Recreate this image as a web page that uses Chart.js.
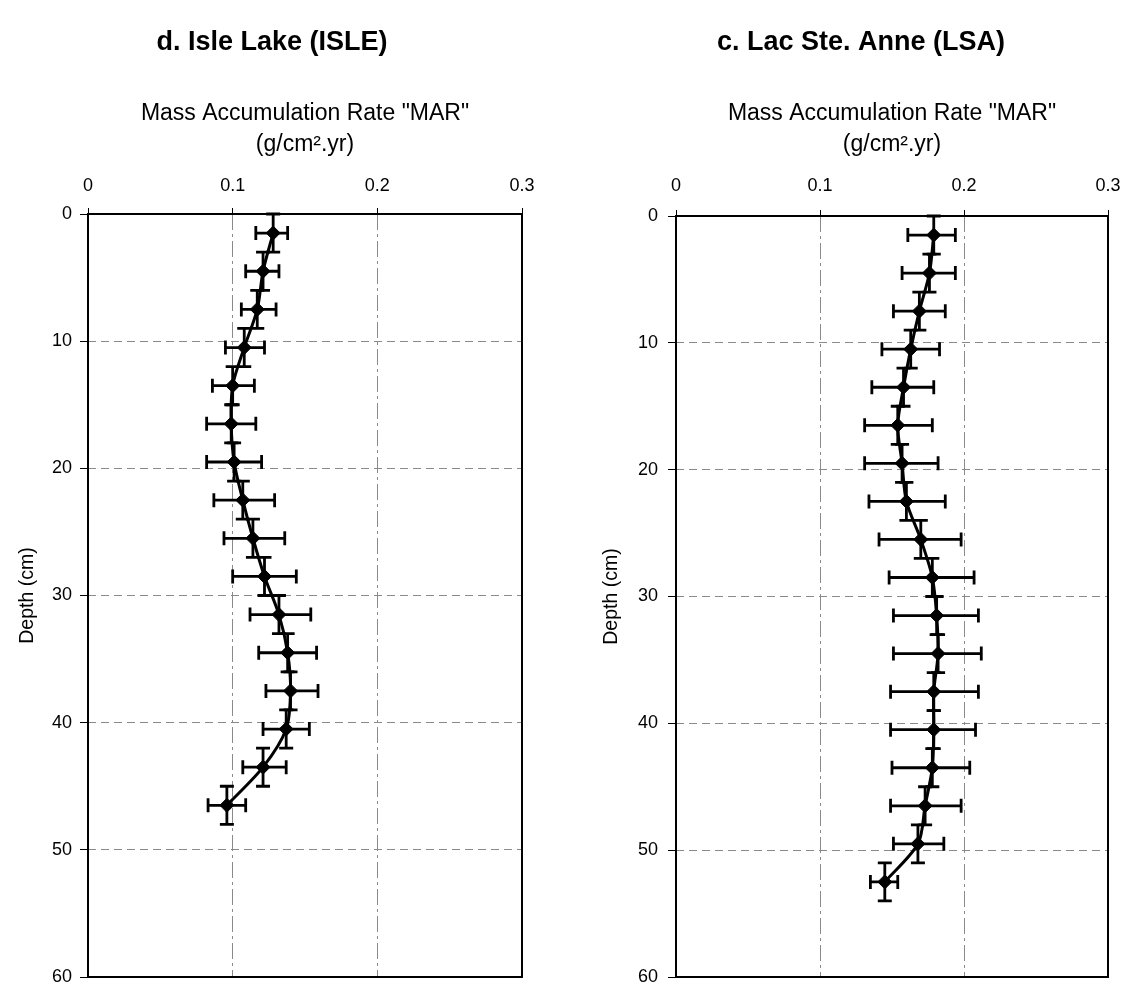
<!DOCTYPE html>
<html><head><meta charset="utf-8">
<script src="https://cdn.jsdelivr.net/npm/chart.js@4.4.1/dist/chart.umd.min.js"></script>
<style>
html,body{margin:0;padding:0;background:#fff;overflow:hidden;width:1130px;height:985px}
.w{position:absolute;top:0}
canvas{display:block}
</style></head><body>
<div class="w" style="left:0px"><canvas id="c1" width="544" height="985"></canvas></div>
<div class="w" style="left:592px"><canvas id="c2" width="538" height="985"></canvas></div>
<script>
// ---- data ----
const xTickLabels = ['0', '0.1', '0.2', '0.3'];
const yTickLabels = ['0', '10', '20', '30', '40', '50', '60'];

const isleTitle = 'd. Isle Lake (ISLE)';
const isleDepth = [1.5, 4.5, 7.5, 10.5, 13.5, 16.5, 19.5, 22.5, 25.5, 28.5, 31.5, 34.5, 37.5, 40.5, 43.5, 46.5];
const isleMAR   = [0.128, 0.121, 0.117, 0.108, 0.100, 0.099, 0.101, 0.107, 0.114, 0.122, 0.132, 0.138, 0.140, 0.137, 0.121, 0.096];
const isleLow   = [0.116, 0.109, 0.106, 0.095, 0.086, 0.082, 0.082, 0.087, 0.094, 0.100, 0.112, 0.118, 0.123, 0.121, 0.107, 0.083];
const isleHigh  = [0.138, 0.132, 0.130, 0.122, 0.115, 0.116, 0.120, 0.129, 0.136, 0.144, 0.154, 0.158, 0.159, 0.153, 0.137, 0.109];
const isleDepthErr = [1.5, 1.5, 1.5, 1.5, 1.5, 1.5, 1.5, 1.5, 1.5, 1.5, 1.5, 1.5, 1.5, 1.5, 1.5, 1.5];

const lsaTitle = 'c. Lac Ste. Anne (LSA)';
const lsaDepth = [1.5, 4.5, 7.5, 10.5, 13.5, 16.5, 19.5, 22.5, 25.5, 28.5, 31.5, 34.5, 37.5, 40.5, 43.5, 46.5, 49.5, 52.5];
const lsaMAR   = [0.179, 0.176, 0.169, 0.163, 0.158, 0.154, 0.157, 0.160, 0.170, 0.178, 0.181, 0.182, 0.179, 0.179, 0.178, 0.173, 0.168, 0.145];
const lsaLow   = [0.161, 0.157, 0.151, 0.143, 0.136, 0.131, 0.131, 0.134, 0.141, 0.148, 0.151, 0.151, 0.149, 0.149, 0.150, 0.149, 0.151, 0.135];
const lsaHigh  = [0.194, 0.194, 0.187, 0.183, 0.179, 0.178, 0.182, 0.187, 0.198, 0.207, 0.210, 0.212, 0.210, 0.208, 0.204, 0.198, 0.186, 0.154];
const lsaDepthErr = [1.5, 1.5, 1.5, 1.5, 1.5, 1.5, 1.5, 1.5, 1.5, 1.5, 1.5, 1.5, 1.5, 1.5, 1.5, 1.5, 1.5, 1.5];

const xAxisTitle = ['Mass Accumulation Rate "MAR"', '(g/cm\u00B2.yr)'];
const yAxisTitle = 'Depth (cm)';

// ---- plugins ----
const errorBars = {
  id: 'errorBars',
  beforeDatasetsDraw(chart) {
    const {ctx, scales: {x, y}} = chart;
    const ds = chart.data.datasets[0];
    const cap = 7;
    ctx.save();
    ctx.strokeStyle = '#000';
    ctx.lineWidth = 2.8;
    ds.data.forEach((p, i) => {
      const px = x.getPixelForValue(p.x), py = y.getPixelForValue(p.y);
      const xl = x.getPixelForValue(ds.errLow[i]), xh = x.getPixelForValue(ds.errHigh[i]);
      const yt = y.getPixelForValue(p.y - ds.depthErr[i]), yb = y.getPixelForValue(p.y + ds.depthErr[i]);
      ctx.beginPath();
      ctx.moveTo(xl, py); ctx.lineTo(xh, py);
      ctx.moveTo(xl, py - cap); ctx.lineTo(xl, py + cap);
      ctx.moveTo(xh, py - cap); ctx.lineTo(xh, py + cap);
      ctx.moveTo(px, yt); ctx.lineTo(px, yb);
      ctx.moveTo(px - cap, yt); ctx.lineTo(px + cap, yt);
      ctx.moveTo(px - cap, yb); ctx.lineTo(px + cap, yb);
      ctx.stroke();
    });
    ctx.restore();
  }
};
const frame = {
  id: 'frame',
  afterDraw(chart) {
    const {ctx, chartArea: a} = chart;
    ctx.save();
    ctx.strokeStyle = '#000';
    ctx.lineWidth = 2;
    ctx.strokeRect(a.left, a.top, a.right - a.left, a.bottom - a.top);
    ctx.restore();
  }
};

const FONT = "'Liberation Sans', Arial, sans-serif";

function makeChart(id, title, depth, mar, low, high, dErr, L) {
  const gridColor = (ctx, max) => (ctx.tick && (ctx.tick.value === 0 || Math.abs(ctx.tick.value - max) < 1e-9)) ? 'rgba(0,0,0,0)' : '#8a8a8a';
  return new Chart(document.getElementById(id), {
    type: 'scatter',
    data: {
      datasets: [{
        data: depth.map((d, i) => ({x: mar[i], y: d})),
        errLow: low, errHigh: high, depthErr: dErr,
        showLine: true,
        tension: 0.3,
        borderColor: '#000',
        borderWidth: 3,
        pointStyle: 'rectRot',
        pointRadius: 7,
        pointBackgroundColor: '#000',
        pointBorderColor: '#000',
        pointBorderWidth: 1,
        clip: false
      }]
    },
    options: {
      responsive: false,
      animation: false,
      events: [],
      layout: {padding: {left: 0, right: 0, top: 0, bottom: 8}},
      plugins: {
        legend: {display: false},
        tooltip: {enabled: false},
        title: {
          display: true, text: title, color: '#000',
          font: {family: FONT, size: 27, weight: 'bold', lineHeight: 1.2},
          padding: {top: 26, bottom: 10}
        }
      },
      scales: {
        x: {
          type: 'linear', position: 'top', min: 0, max: 0.3,
          ticks: {stepSize: 0.1, color: '#000', font: {family: FONT, size: 18}, padding: L.xTickPad,
                  callback: v => xTickLabels[Math.round(v * 10)]},
          grid: {color: c => gridColor(c, 0.3), lineWidth: 1, tickColor: '#000', tickLength: 6, tickWidth: 1},
          border: {display: false, dash: [16, 4, 3, 4]},
          title: {display: true, text: xAxisTitle, color: '#000',
                  font: {family: FONT, size: 23, lineHeight: 1.35}, padding: {top: 30, bottom: 0}},
          afterFit: s => { s.height = L.xHeight; s.paddingLeft = 0; s.paddingRight = 0; }
        },
        y: {
          type: 'linear', reverse: true, min: 0, max: 60,
          ticks: {stepSize: 10, color: '#000', font: {family: FONT, size: 18}, padding: L.yTickPad,
                  callback: v => yTickLabels[Math.round(v / 10)]},
          grid: {color: c => gridColor(c, 60), lineWidth: 1, tickColor: '#000', tickLength: 8, tickWidth: 1},
          border: {display: false, dash: [8, 5]},
          title: {display: true, text: yAxisTitle, color: '#000',
                  font: {family: FONT, size: 19.5, lineHeight: 1.2}, padding: {top: L.yTitlePad, bottom: 0}},
          afterFit: s => { s.width = L.yWidth; s.paddingTop = 0; s.paddingBottom = 0; }
        },
        yPad: {
          type: 'linear', position: 'right', display: true,
          grid: {display: false, drawTicks: false},
          ticks: {display: false},
          border: {display: false},
          afterFit: s => { s.width = 22; s.paddingTop = 0; s.paddingBottom = 0; }
        }
      }
    },
    plugins: [errorBars, frame]
  });
}

makeChart('c1', isleTitle, isleDepth, isleMAR, isleLow, isleHigh, isleDepthErr,
  {xHeight: 145.6, xTickPad: 11, yTickPad: 8, yWidth: 88, yTitlePad: 16});
makeChart('c2', lsaTitle, lsaDepth, lsaMAR, lsaLow, lsaHigh, lsaDepthErr,
  {xHeight: 147.6, xTickPad: 13, yTickPad: 10, yWidth: 84, yTitlePad: 8});
</script>
</body></html>
